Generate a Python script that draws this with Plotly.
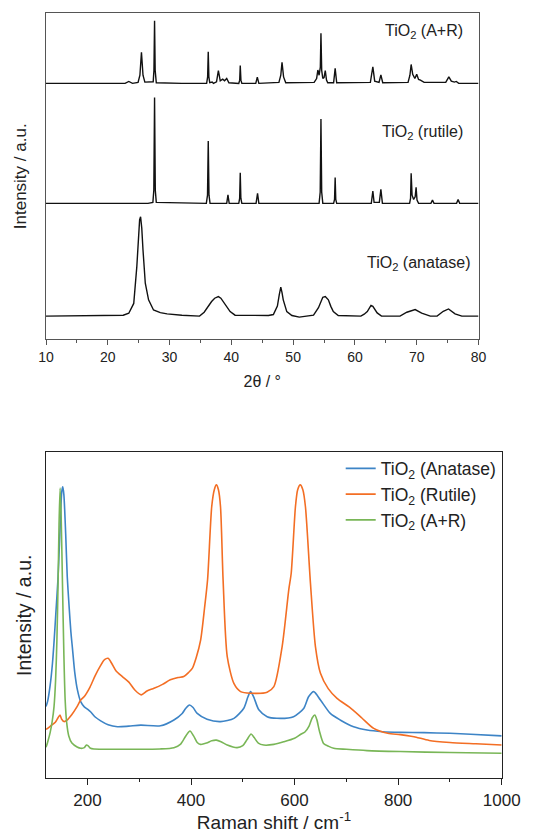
import plotly.graph_objects as go

# ---------------- XRD patterns (2θ in degrees, intensity above each baseline, a.u.) ----------------
XRD_ANATASE = [
    (10, 0), (20, 0.1), (22.5, 0.3), (23.4, 0.9), (24.2, 3.9), (24.7, 15.2), (25.15, 29.5),
    (25.31, 30.5), (25.5, 27.0), (25.7, 20.3), (26.07, 10.1), (26.6, 5.0), (27.4, 1.9),
    (28.5, 1.1), (29.6, 0.7), (32, 0.3), (34.85, 0), (35.6, 1.2), (36.2, 2.9), (36.8, 4.5),
    (37.3, 5.5), (37.9, 6.0), (38.3, 5.5), (38.7, 4.4), (39.2, 2.8), (39.8, 1.4), (40.6, 0.3),
    (46.0, 0.2), (46.8, 0.5), (47.45, 3.1), (47.75, 6.5), (48.0, 8.9), (48.2, 7.2), (48.4, 5.0),
    (48.97, 1.4), (49.8, 0.2), (51.0, -0.3), (52.5, 0), (53.3, 0.3), (54.1, 2.6), (54.8, 5.8),
    (55.2, 6.0), (55.7, 5.0), (56.1, 3.0), (56.5, 1.4), (57.3, 0.2), (60.96, 0), (61.5, 0.6),
    (62.0, 1.4), (62.6, 3.3), (62.9, 3.0), (63.6, 1.0), (64.3, 0), (67.3, 0), (68.4, 1.2),
    (69.75, 2.0), (70.8, 0.9), (72.2, 0), (73.3, 0), (74.3, 1.5), (75.15, 2.2), (76.2, 0.7),
    (77.3, 0), (80, 0),
]

XRD_RUTILE = [
    (10, 0), (26.5, 0), (27.3, 0.3), (27.45, 4.0), (27.57, 32.5), (27.69, 4.0), (27.85, 0.3),
    (35.95, 0), (36.14, 2.5), (36.26, 19.1), (36.38, 2.5), (36.55, 0),
    (39.25, 0), (39.45, 2.6), (39.65, 0),
    (41.2, 0), (41.34, 1.5), (41.44, 9.4), (41.54, 1.5), (41.7, 0),
    (44.0, 0), (44.24, 3.1), (44.45, 0),
    (54.2, 0), (54.38, 3.5), (54.5, 25.9), (54.62, 3.5), (54.8, 0),
    (56.55, 0), (56.7, 1.2), (56.8, 7.9), (56.9, 1.2), (57.05, 0),
    (62.65, 0), (62.9, 3.8), (63.1, 0.3), (63.95, 0.3), (64.2, 4.3), (64.45, 0),
    (68.85, 0), (69.0, 1.5), (69.1, 9.2), (69.25, 2.5), (69.5, 1.2), (69.75, 2.0), (69.9, 4.9),
    (70.05, 1.0), (70.3, 0),
    (72.3, 0), (72.55, 1.0), (72.8, 0),
    (76.45, 0), (76.7, 1.2), (76.95, 0), (80, 0),
]

XRD_MIXED = [
    (10, 0), (22.8, 0), (23.4, 0.6), (24.0, 0), (24.9, 0.3), (25.2, 2.5), (25.45, 9.5),
    (25.7, 2.5), (26.0, 0.4), (27.35, 0.5), (27.47, 4.0), (27.57, 19.2), (27.67, 4.0),
    (27.85, 0.2), (32, 0), (36.0, 0), (36.16, 2.0), (36.26, 9.7), (36.36, 2.0), (36.5, 0.2),
    (36.9, 0.4), (37.1, 0), (37.6, 0.5), (37.9, 3.9), (38.2, 0.8), (38.6, 1.3), (38.9, 0.8),
    (39.25, 1.5), (39.6, 0.2), (41.2, 0), (41.35, 1.0), (41.44, 5.5), (41.55, 1.0), (41.7, 0),
    (43.95, 0), (44.2, 1.9), (44.45, 0), (47.7, 0.3), (48.0, 2.5), (48.2, 6.5), (48.45, 2.0),
    (48.8, 0.2), (53.4, 0.3), (53.8, 1.5), (54.0, 4.1), (54.2, 2.5), (54.4, 5.0), (54.5, 15.4),
    (54.62, 4.0), (54.8, 1.5), (55.0, 1.8), (55.2, 3.9), (55.4, 1.0), (55.6, 0.2), (56.55, 0.2),
    (56.8, 4.6), (57.05, 0.2), (62.5, 0.3), (62.9, 5.1), (63.2, 0.7), (63.9, 0.3), (64.2, 2.6),
    (64.5, 0.2), (68.6, 0.3), (68.9, 2.5), (69.1, 5.8), (69.35, 2.8), (69.7, 1.5), (70.0, 2.8),
    (70.3, 1.2), (70.6, 1.0), (71.2, 0.3), (74.7, 0.3), (75.2, 2.0), (75.6, 0.7), (76.1, 0.4),
    (76.4, 0.6), (76.8, 0), (80, 0),
]

XRD_NAMES = ["TiO<sub>2</sub> (anatase)", "TiO<sub>2</sub> (rutile)", "TiO<sub>2</sub> (A+R)"]

# ---------------- Raman spectra (shift in cm^-1, intensity a.u.) ----------------
RAMAN_ANATASE = [
    (120, 22.0), (123, 23.5), (128, 28.5), (132.5, 35.3), (136, 43.0), (139, 50.6), (143, 60.8),
    (146, 72.0), (148.5, 82.0), (150.5, 88.0), (152.4, 89.4), (154.5, 87.0), (158, 75.0),
    (161, 62.0), (164.5, 53.0), (168, 45.0), (171, 40.0), (175.5, 32.5), (180.7, 27.1),
    (187, 23.5), (193.5, 22.0), (200, 21.2), (206, 20.4), (215, 18.8), (225.6, 17.6),
    (240, 16.4), (258, 15.8), (280, 16.0), (303, 16.3), (341, 16.1), (367, 17.9), (383, 19.9),
    (390, 21.5), (397, 22.5), (404, 21.7), (412, 19.9), (431, 18.1), (457, 17.4), (483, 18.4),
    (502, 21.5), (510, 25.0), (515, 26.6), (521, 25.0), (531, 21.0), (547, 18.9), (566, 18.4),
    (598, 18.9), (618, 21.5), (627, 25.0), (637, 26.6), (650, 24.0), (669, 19.9), (688, 17.9),
    (714, 15.8), (740, 14.8), (770, 14.3), (804, 14.1), (850, 14.0), (900, 13.8), (940, 13.5),
    (1000, 13.0),
]

RAMAN_RUTILE = [
    (120, 15.0), (123, 15.3), (130, 16.2), (138, 17.2), (143, 18.5), (147, 19.4), (150, 18.2),
    (155, 17.4), (160, 17.8), (170, 19.6), (180, 22.0), (187, 24.0), (193.5, 25.0), (205, 28.0),
    (215, 31.5), (225, 34.5), (233, 36.4), (240, 36.8), (247, 35.2), (255, 33.0), (267.5, 31.2),
    (280, 29.5), (292, 27.0), (304, 25.6), (315, 26.8), (328.5, 27.6), (345, 28.8), (360, 30.2),
    (375, 30.9), (386, 31.2), (395, 32.4), (402.5, 33.7), (410, 37.0), (418.6, 42.4), (426, 52.0),
    (432, 60.9), (440, 83.3), (445, 88.5), (449, 90.0), (453, 88.5), (457, 83.3), (462, 60.8),
    (470, 37.3), (482.8, 29.1), (495.7, 26.6), (515, 26.1), (547, 26.4), (560, 28.1),
    (576, 40.4), (588.8, 57.8), (593.5, 62.9), (601.7, 83.3), (606, 88.5), (611, 90.0),
    (616, 88.5), (621, 83.3), (630.7, 59.8), (640.3, 40.4), (650, 32.2), (665, 27.5),
    (682, 24.5), (706, 21.8), (730, 18.5), (752.8, 15.3), (780, 13.8), (804, 13.4), (825, 12.9),
    (835, 12.6), (860, 11.6), (900, 11.0), (950, 10.6), (1000, 10.2),
]

RAMAN_MIXED = [
    (120, 9.5), (123, 11.0), (128, 14.0), (132, 17.5), (135.5, 22.0), (138.5, 30.0), (141, 42.0),
    (143.3, 59.8), (145.2, 78.0), (147.2, 89.0), (149.3, 80.0), (151.8, 59.8), (154.5, 38.0),
    (157, 24.0), (160, 17.0), (164, 13.0), (170, 10.8), (180, 9.6), (187, 9.2), (194, 9.4),
    (198, 10.2), (201, 10.0), (206, 9.2), (212.8, 9.0), (250, 8.9), (290, 8.9), (340, 9.0),
    (367, 9.4), (380, 10.5), (390, 13.0), (398, 14.5), (405, 13.0), (412, 11.0), (418.5, 10.4),
    (430, 10.8), (440, 11.5), (449, 11.7), (458, 11.2), (470, 10.2), (489, 9.4), (500, 10.0),
    (508, 11.8), (516, 13.6), (522, 12.5), (530, 10.8), (540.6, 10.2), (560, 10.4), (579, 11.2),
    (600, 12.3), (612, 13.5), (620, 14.2), (628, 16.0), (634, 18.5), (639, 19.4), (643, 18.0),
    (648, 14.5), (656, 10.7), (666, 9.8), (675.6, 9.2), (700, 8.9), (740, 8.5), (804, 8.2),
    (900, 7.9), (1000, 7.7),
]

RAMAN_NAMES = ["TiO<sub>2</sub> (Anatase)", "TiO<sub>2</sub> (Rutile)", "TiO<sub>2</sub> (A+R)"]
RAMAN_COLORS = ["#3D84C6", "#F36E24", "#79B657"]

# vertical stacking of the XRD patterns (plot units)
XRD_BASELINES = [7.1, 41.7, 78.5]

FONT = "Liberation Sans, Arial, sans-serif"
W, H = 535, 833


def px_domain_x(a, b):
    return [a / W, b / W]


def px_domain_y(top, bottom):
    return [(H - bottom) / H, (H - top) / H]


fig = go.Figure()

for pattern, base in zip([XRD_ANATASE, XRD_RUTILE, XRD_MIXED], XRD_BASELINES):
    xs = [p[0] for p in pattern]
    ys = [base + p[1] for p in pattern]
    fig.add_trace(go.Scatter(
        x=xs, y=ys, mode="lines", line=dict(color="#111111", width=1.4),
        showlegend=False, xaxis="x", yaxis="y", hoverinfo="skip",
    ))

for spec, name, color in zip([RAMAN_ANATASE, RAMAN_RUTILE, RAMAN_MIXED], RAMAN_NAMES, RAMAN_COLORS):
    fig.add_trace(go.Scatter(
        x=[p[0] for p in spec], y=[p[1] for p in spec], mode="lines", name=name,
        line=dict(color=color, width=1.6, shape="spline", smoothing=0.7),
        xaxis="x2", yaxis="y2", legendgroup=name,
    ))

# pattern labels on the XRD panel
label_pos = [(78.9, 23.4), (77.85, 63.3), (77.85, 94.3)]
for text, (lx, ly) in zip(XRD_NAMES, label_pos):
    fig.add_annotation(
        x=lx, y=ly, xref="x", yref="y", text=text, showarrow=False,
        xanchor="right", yanchor="middle", font=dict(family=FONT, size=16, color="#222222"),
    )

frame_top = dict(showline=True, linecolor="#555555", linewidth=1.2, mirror=True,
                 showgrid=False, zeroline=False, automargin=False)
frame_bot = dict(showline=True, linecolor="#222222", linewidth=1.2, mirror=True,
                 showgrid=False, zeroline=False, automargin=False)

fig.update_layout(
    width=W, height=H, autosize=False,
    margin=dict(l=0, r=0, t=0, b=0, pad=0, autoexpand=False),
    paper_bgcolor="white", plot_bgcolor="white",
    font=dict(family=FONT, color="#222222"),
    xaxis=dict(
        domain=px_domain_x(46, 478.5), range=[10, 80], anchor="y",
        tickmode="array", tickvals=[10, 20, 30, 40, 50, 60, 70, 80],
        ticks="outside", ticklen=5, tickwidth=1.2, tickcolor="#555555",
        minor=dict(tickvals=[15, 25, 35, 45, 55, 65, 75], ticks="outside", ticklen=3,
                   tickwidth=1.2, tickcolor="#555555"),
        tickfont=dict(size=14), title=dict(text="2θ / °", font=dict(size=16), standoff=11),
        **frame_top,
    ),
    yaxis=dict(
        domain=px_domain_y(13.3, 339.3), range=[0, 100], anchor="x",
        ticks="", showticklabels=False,
        title=dict(text="Intensity / a.u.", font=dict(size=17), standoff=13),
        **frame_top,
    ),
    xaxis2=dict(
        domain=px_domain_x(46, 501.7), range=[120, 1000], anchor="y2",
        tickmode="array", tickvals=[200, 400, 600, 800, 1000],
        ticks="outside", ticklen=6, tickwidth=1.2, tickcolor="#222222",
        minor=dict(tickvals=[300, 500, 700, 900], ticks="outside", ticklen=3,
                   tickwidth=1.2, tickcolor="#222222"),
        tickfont=dict(size=17),
        title=dict(text="Raman shift / cm<sup>-1</sup>", font=dict(size=19), standoff=4),
        **frame_bot,
    ),
    yaxis2=dict(
        domain=px_domain_y(452.3, 778.3), range=[0, 100], anchor="x2",
        ticks="", showticklabels=False,
        title=dict(text="Intensity / a.u.", font=dict(size=19.5), standoff=8),
        **frame_bot,
    ),
    legend=dict(
        x=501.7 / W, y=(H - 450.5) / H, xanchor="right", yanchor="top",
        bgcolor="rgba(0,0,0,0)", borderwidth=0, font=dict(size=17.5),
        tracegroupgap=0,
    ),
)

fig.write_html("out.html")
